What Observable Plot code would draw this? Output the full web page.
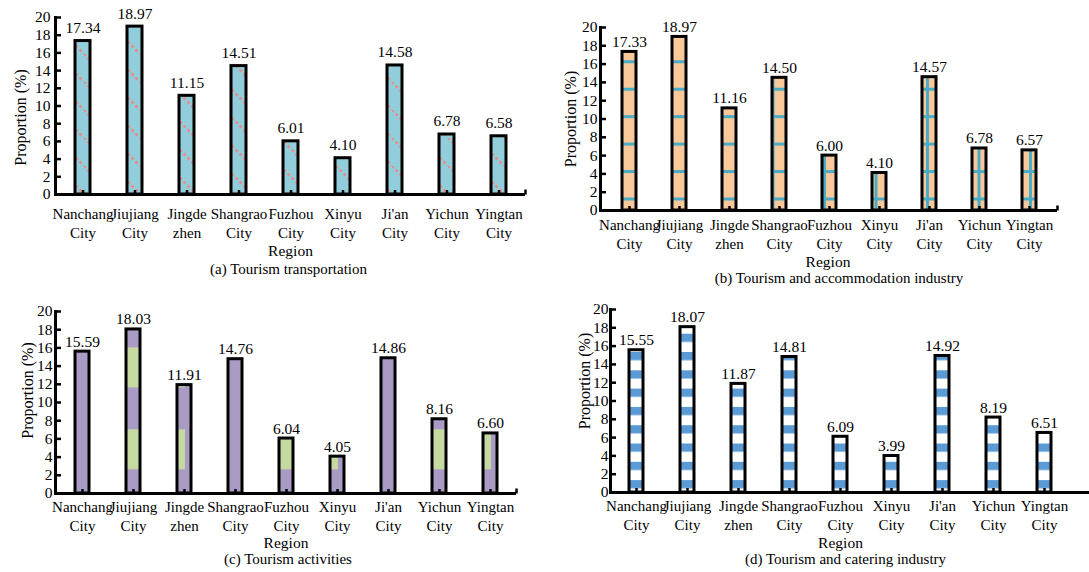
<!DOCTYPE html>
<html><head><meta charset="utf-8">
<script src="https://cdn.jsdelivr.net/npm/d3@7"></script>
<script src="https://cdn.jsdelivr.net/npm/@observablehq/plot@0.6"></script>
<style>
body{margin:0;background:#fff;}
#wrap{position:relative;width:1089px;height:572px;overflow:hidden;background:#fff;}
#wrap svg{position:absolute;}
</style></head><body><div id="wrap"></div>
<script>
// ---- data ----
const cities = ["Nanchang\nCity","Jiujiang\nCity","Jingde\nzhen","Shangrao\nCity","Fuzhou\nCity","Xinyu\nCity","Ji'an\nCity","Yichun\nCity","Yingtan\nCity"];
const transportation = [17.34,18.97,11.15,14.51,6.01,4.10,14.58,6.78,6.58];
const accommodation  = [17.33,18.97,11.16,14.50,6.00,4.10,14.57,6.78,6.57];
const activities     = [15.59,18.03,11.91,14.76,6.04,4.05,14.86,8.16,6.60];
const catering       = [15.55,18.07,11.87,14.81,6.09,3.99,14.92,8.19,6.51];
const yTicks = [0,2,4,6,8,10,12,14,16,18,20];
const yLabel = "Proportion (%)";
const xLabel = "Region";
const captions = ["(a) Tourism transportation","(b) Tourism and accommodation industry","(c) Tourism activities","(d) Tourism and catering industry"];

// ---- layout / style config ----
const FONT = '"Liberation Serif","Times New Roman",serif';
const panels = [
  {id:"A", left:0,   top:0,   width:540, height:290, ml:55, mr:15, mt:17, mb:96, pi:0.714, po:0.333, tp:11, ylx:-35, yly:11.5, rdx:0, rdy:57, cdx:-2, cdy:75, vdy:-13, ytx:-5, endTick:true},
  {id:"B", left:540, top:0,   width:549, height:290, ml:60, mr:32, mt:27, mb:80, pi:0.72, po:0.375, tp:6, ylx:-30, yly:0, rdx:-1, rdy:52, cdx:10, cdy:68, vdy:-10, ytx:-3, endTick:true},
  {id:"C", left:0,   top:290, width:545, height:282, ml:55, mr:29, mt:21, mb:79, pi:0.73, po:0.376, tp:5, ylx:-28, yly:-12, rdx:0, rdy:50, cdx:2, cdy:66, vdy:-10, ytx:-3, endTick:true},
  {id:"D", left:545, top:290, width:544, height:282, ml:65, mr:0,  mt:19, mb:80, pi:0.72, po:0.369, tp:5, ylx:-26, yly:-20, rdx:-9.5, rdy:51, cdx:-4.5, cdy:67, vdy:-10, ytx:-2, xr:[65,526], endTick:false}
];

const upTick = {draw(ctx) { ctx.moveTo(0, 0); ctx.lineTo(0, -5); }};

function makePanel(p, values, caption, buildPattern) {
  const data = cities.map((c, i) => ({city: c, value: values[i]}));
  const xOpts = {domain: cities, paddingInner: p.pi, paddingOuter: p.po, label: null};
  if (p.xr) xOpts.range = p.xr;
  const marks = [
    Plot.barY(data, {x: "city", y: "value", fill: `url(#pat${p.id})`, stroke: "#000", strokeWidth: 3}),
    Plot.ruleY([0], {stroke: "#000", strokeWidth: 3}),
    Plot.frame({anchor: "left", stroke: "#000", strokeWidth: 3}),
    Plot.axisY({ticks: yTicks, tickSize: -6, strokeWidth: 2.5, tickFormat: () => ""}),
    Plot.axisX({tickSize: -4, strokeWidth: 2.5, tickFormat: () => ""}),
    // y tick labels
    Plot.text(yTicks, {y: d => d, text: d => String(d), frameAnchor: "left", textAnchor: "end", lineAnchor: "middle", dx: p.ytx, fontSize: 15.5, fill: "#000"}),
    // x tick labels (two lines)
    Plot.text(cities, {x: d => d, text: d => d, frameAnchor: "bottom", textAnchor: "middle", lineAnchor: "top", dy: p.tp, lineHeight: 1.27, fontSize: 15, fill: "#000"}),
    // value labels
    Plot.text(data, {x: "city", y: "value", text: d => d.value.toFixed(2), textAnchor: "middle", lineAnchor: "middle", dy: p.vdy, fontSize: 15.5, fill: "#000"}),
    Plot.text([yLabel], {text: d => d, frameAnchor: "left", textAnchor: "middle", lineAnchor: "middle", rotate: -90, dx: p.ylx, dy: p.yly, fontSize: 16, fill: "#000"}),
    Plot.text([xLabel], {text: d => d, frameAnchor: "bottom", textAnchor: "middle", lineAnchor: "middle", dx: p.rdx, dy: p.rdy, fontSize: 15.5, fill: "#000"}),
    Plot.text([caption], {text: d => d, frameAnchor: "bottom", textAnchor: "middle", lineAnchor: "middle", dx: p.cdx, dy: p.cdy, fontSize: 15, fill: "#000"})
  ];
  if (p.endTick) marks.push(Plot.dot([0], {frameAnchor: "bottom-right", symbol: upTick, r: 5, fill: "none", stroke: "#000", strokeWidth: 2.5}));
  const plot = Plot.plot({
    width: p.width, height: p.height,
    marginLeft: p.ml, marginRight: p.mr, marginTop: p.mt, marginBottom: p.mb,
    style: {fontFamily: FONT, fontSize: "15px", color: "#000", background: "transparent", overflow: "visible"},
    x: xOpts,
    y: {domain: [0, 20], label: null},
    marks
  });
  plot.style.left = p.left + "px";
  plot.style.top = p.top + "px";
  const defs = d3.select(plot).insert("defs", ":first-child");
  const pat = defs.append("pattern").attr("id", "pat" + p.id).attr("patternUnits", "userSpaceOnUse");
  buildPattern(pat, plot.scale("x"), plot.scale("y"));
  document.getElementById("wrap").appendChild(plot);
}

// (a) light blue with dashed diagonal salmon lines
makePanel(panels[0], transportation, captions[0], (pat, x, y) => {
  const s = 28;
  pat.attr("width", s).attr("height", s).attr("x", 0).attr("y", y.apply(0));
  pat.append("rect").attr("width", s).attr("height", s).attr("fill", "#92cddc");
  pat.append("line").attr("x1", -s).attr("y1", -s).attr("x2", 2*s).attr("y2", 2*s)
    .attr("stroke", "#ea8c86").attr("stroke-width", 2.6).attr("stroke-dasharray", "2.8,2.8");
});

// (b) peach with blue grid lines
makePanel(panels[1], accommodation, captions[1], (pat, x, y) => {
  const P = x.step * 1.03;
  const H = y.apply(0) - y.apply(3);
  pat.attr("width", P).attr("height", H)
    .attr("x", x.apply(cities[3]) - 0.5).attr("y", y.apply(16.2) - 1.5);
  pat.append("rect").attr("width", P).attr("height", H).attr("fill", "#f9c89b");
  pat.append("rect").attr("width", P).attr("height", 3).attr("fill", "#4bacc6");
  pat.append("rect").attr("width", 3).attr("height", H).attr("fill", "#4bacc6");
});

// (c) purple with green patches
makePanel(panels[2], activities, captions[2], (pat, x, y) => {
  const P = x.apply(cities[3]) - x.apply(cities[0]);
  const H = y.apply(0) - y.apply(9);
  const x0 = x.apply(cities[1]) - 10;
  const gw = (x.apply(cities[2]) + x.bandwidth / 2 + 1) - x0;
  const gh = y.apply(11.6) - y.apply(16);
  pat.attr("width", P).attr("height", H).attr("x", x0).attr("y", y.apply(16));
  pat.append("rect").attr("width", P).attr("height", H).attr("fill", "#aa9bc5");
  pat.append("rect").attr("width", gw).attr("height", gh).attr("fill", "#c6d9a0");
});

// (d) blue / white horizontal stripes
makePanel(panels[3], catering, captions[3], (pat, x, y) => {
  const H = y.apply(0) - y.apply(2);
  pat.attr("width", 10).attr("height", H).attr("x", 0).attr("y", y.apply(1.3));
  pat.append("rect").attr("width", 10).attr("height", H).attr("fill", "#ffffff");
  pat.append("rect").attr("width", 10).attr("height", y.apply(0.4) - y.apply(1.3)).attr("fill", "#5b9bd5");
});
</script></body></html>
